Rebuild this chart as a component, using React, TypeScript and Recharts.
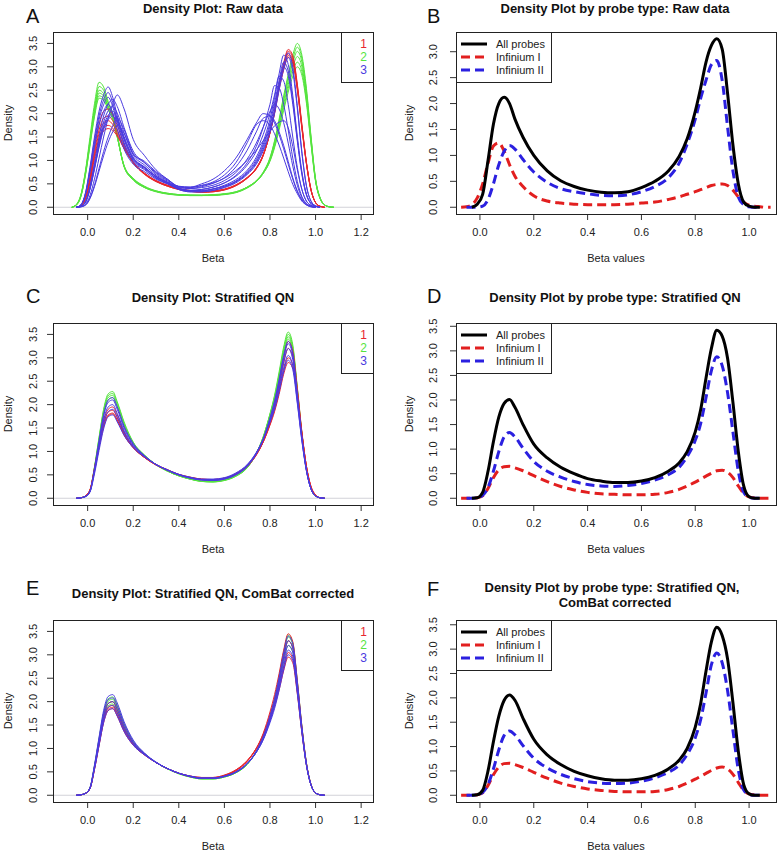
import React from 'react';
import { LineChart, Line, XAxis, YAxis, ReferenceLine } from 'recharts';

type V = number | null;

// shared beta grid (x positions of every density curve)
const BETA: number[] = [-0.07, -0.05, -0.03, -0.01, 0.01, 0.03, 0.05, 0.07, 0.09, 0.11, 0.13, 0.16, 0.2, 0.25, 0.3, 0.35, 0.4, 0.45, 0.5, 0.55, 0.6, 0.65, 0.7, 0.74, 0.77, 0.8, 0.82, 0.84, 0.86, 0.88, 0.9, 0.92, 0.94, 0.96, 0.98, 1.0, 1.02, 1.04, 1.06, 1.08];

// ---------- Panel A: raw data, per sample ----------
const rawGreen: V[][] = [
  [0, 0.05, 0.26, 0.77, 1.49, 2.21, 2.67, 2.57, 2.26, 2.0, 1.54, 0.87, 0.59, 0.42, 0.34, 0.29, 0.26, 0.25, 0.25, 0.26, 0.28, 0.32, 0.42, 0.56, 0.74, 1.05, 1.42, 1.88, 2.38, 2.84, 3.25, 3.5, 3.25, 2.54, 1.52, 0.61, 0.2, 0.05, 0.01, 0],
  [0, 0.05, 0.24, 0.73, 1.42, 2.12, 2.58, 2.5, 2.22, 1.97, 1.52, 0.86, 0.58, 0.42, 0.33, 0.28, 0.26, 0.25, 0.25, 0.26, 0.28, 0.32, 0.43, 0.57, 0.75, 1.06, 1.4, 1.84, 2.33, 2.78, 3.17, 3.42, 3.18, 2.48, 1.49, 0.6, 0.2, 0.05, 0.01, 0],
  [0, 0.06, 0.26, 0.74, 1.4, 2.07, 2.5, 2.43, 2.17, 1.94, 1.52, 0.88, 0.6, 0.43, 0.34, 0.29, 0.26, 0.25, 0.25, 0.25, 0.27, 0.31, 0.41, 0.55, 0.73, 1.03, 1.36, 1.79, 2.27, 2.71, 3.09, 3.33, 3.1, 2.42, 1.46, 0.58, 0.19, 0.05, 0.01, 0],
  [0, 0.05, 0.24, 0.71, 1.36, 2.02, 2.44, 2.38, 2.14, 1.92, 1.5, 0.87, 0.6, 0.43, 0.34, 0.29, 0.27, 0.26, 0.25, 0.26, 0.28, 0.32, 0.42, 0.55, 0.72, 1.0, 1.32, 1.74, 2.2, 2.62, 2.99, 3.22, 3.0, 2.35, 1.42, 0.57, 0.19, 0.05, 0.01, 0],
  [0, 0.05, 0.23, 0.69, 1.33, 1.97, 2.38, 2.33, 2.1, 1.9, 1.5, 0.88, 0.61, 0.44, 0.35, 0.3, 0.27, 0.26, 0.26, 0.26, 0.28, 0.33, 0.43, 0.56, 0.73, 1.0, 1.3, 1.7, 2.13, 2.54, 2.9, 3.1, 2.9, 2.28, 1.38, 0.56, 0.19, 0.05, 0.01, 0],
  [0, 0.04, 0.22, 0.67, 1.3, 1.93, 2.33, 2.29, 2.08, 1.88, 1.5, 0.89, 0.62, 0.45, 0.35, 0.3, 0.27, 0.26, 0.26, 0.27, 0.29, 0.33, 0.43, 0.56, 0.72, 0.98, 1.27, 1.65, 2.07, 2.46, 2.8, 3.0, 2.82, 2.22, 1.35, 0.55, 0.18, 0.05, 0.01, 0],
];
const rawRed: V[][] = [
  [null, 0, 0.04, 0.22, 0.65, 1.3, 1.78, 2.05, 2.1, 1.98, 1.75, 1.36, 0.98, 0.71, 0.55, 0.45, 0.38, 0.34, 0.32, 0.33, 0.37, 0.46, 0.62, 0.82, 1.1, 1.6, 2.06, 2.62, 3.08, 3.37, 3.24, 2.63, 1.77, 0.96, 0.38, 0.1, 0.02, 0, null, null],
  [null, 0, 0.04, 0.2, 0.6, 1.2, 1.65, 1.9, 1.95, 1.85, 1.65, 1.3, 0.95, 0.7, 0.55, 0.45, 0.38, 0.34, 0.32, 0.33, 0.37, 0.46, 0.62, 0.82, 1.1, 1.6, 2.05, 2.6, 3.05, 3.33, 3.2, 2.6, 1.75, 0.95, 0.38, 0.1, 0.02, 0, null, null],
  [null, 0, 0.04, 0.19, 0.57, 1.14, 1.57, 1.8, 1.85, 1.77, 1.6, 1.28, 0.95, 0.71, 0.56, 0.46, 0.39, 0.35, 0.33, 0.34, 0.38, 0.47, 0.63, 0.83, 1.11, 1.6, 2.03, 2.57, 3.0, 3.28, 3.15, 2.56, 1.72, 0.94, 0.37, 0.1, 0.02, 0, null, null],
  [null, 0, 0.03, 0.18, 0.54, 1.08, 1.48, 1.7, 1.75, 1.69, 1.55, 1.26, 0.95, 0.72, 0.57, 0.47, 0.39, 0.35, 0.33, 0.34, 0.38, 0.47, 0.63, 0.84, 1.12, 1.6, 2.02, 2.55, 2.97, 3.24, 3.12, 2.53, 1.7, 0.93, 0.37, 0.1, 0.02, 0, null, null],
  [null, 0, 0.03, 0.17, 0.52, 1.04, 1.43, 1.63, 1.68, 1.64, 1.52, 1.25, 0.96, 0.73, 0.57, 0.47, 0.4, 0.36, 0.34, 0.35, 0.39, 0.48, 0.64, 0.84, 1.12, 1.58, 2.0, 2.52, 2.93, 3.2, 3.08, 2.5, 1.68, 0.92, 0.36, 0.1, 0.02, 0, null, null],
];
const rawBlue: V[][] = [
  [null, 0, 0.05, 0.3, 0.85, 1.5, 2.05, 2.4, 2.57, 2.35, 1.95, 1.45, 1.05, 0.85, 0.65, 0.52, 0.4, 0.35, 0.35, 0.39, 0.47, 0.59, 0.79, 1.07, 1.4, 1.88, 2.34, 2.85, 3.25, 3.05, 2.39, 1.52, 0.76, 0.28, 0.08, 0.02, 0, null, null, null],
  [null, 0, 0.05, 0.29, 0.81, 1.43, 1.95, 2.29, 2.45, 2.24, 1.86, 1.38, 1.0, 0.82, 0.63, 0.51, 0.4, 0.35, 0.35, 0.39, 0.45, 0.56, 0.76, 1.02, 1.34, 1.79, 2.23, 2.71, 3.1, 2.91, 2.28, 1.45, 0.73, 0.27, 0.08, 0.02, 0, null, null, null],
  [null, 0, 0.02, 0.12, 0.45, 0.95, 1.5, 1.95, 2.2, 2.3, 2.15, 1.7, 1.2, 0.95, 0.72, 0.56, 0.41, 0.36, 0.36, 0.39, 0.45, 0.55, 0.73, 0.98, 1.29, 1.73, 2.16, 2.63, 3.0, 2.81, 2.2, 1.41, 0.7, 0.26, 0.08, 0.02, 0, null, null, null],
  [null, 0, 0.02, 0.11, 0.42, 0.89, 1.4, 1.82, 2.06, 2.15, 2.01, 1.59, 1.12, 0.9, 0.69, 0.54, 0.38, 0.33, 0.33, 0.36, 0.43, 0.54, 0.72, 0.95, 1.24, 1.65, 2.06, 2.58, 3.04, 3.3, 2.99, 2.17, 1.19, 0.46, 0.13, 0.03, 0, null, null, null],
  [null, 0, 0.01, 0.06, 0.25, 0.6, 1.05, 1.5, 1.9, 2.2, 2.4, 2.1, 1.45, 1.1, 0.8, 0.6, 0.44, 0.4, 0.42, 0.47, 0.57, 0.74, 1.03, 1.37, 1.71, 2.05, 2.2, 2.1, 1.81, 1.37, 0.88, 0.47, 0.2, 0.07, 0.02, 0, null, null, null, null],
  [null, 0, 0.02, 0.1, 0.39, 0.83, 1.3, 1.7, 1.91, 2.0, 1.87, 1.48, 1.04, 0.85, 0.66, 0.53, 0.42, 0.4, 0.44, 0.51, 0.63, 0.86, 1.22, 1.61, 1.9, 1.95, 1.85, 1.61, 1.32, 0.98, 0.63, 0.35, 0.16, 0.06, 0.02, 0, null, null, null, null],
  [null, 0, 0.01, 0.05, 0.2, 0.47, 0.83, 1.19, 1.5, 1.74, 1.9, 1.66, 1.15, 0.95, 0.74, 0.58, 0.44, 0.42, 0.47, 0.54, 0.69, 0.95, 1.38, 1.76, 1.85, 1.76, 1.57, 1.33, 1.05, 0.76, 0.49, 0.29, 0.13, 0.05, 0.01, 0, null, null, null, null],
  [null, 0, 0.02, 0.11, 0.4, 0.85, 1.34, 1.74, 1.96, 2.05, 1.91, 1.51, 1.07, 0.86, 0.66, 0.52, 0.4, 0.36, 0.38, 0.43, 0.52, 0.68, 0.95, 1.3, 1.7, 2.2, 2.6, 2.55, 2.2, 1.65, 1.05, 0.55, 0.23, 0.08, 0.02, 0, null, null, null, null],
  [null, 0, 0.04, 0.26, 0.73, 1.28, 1.75, 2.05, 2.2, 2.01, 1.67, 1.24, 0.92, 0.76, 0.6, 0.5, 0.4, 0.36, 0.38, 0.43, 0.52, 0.66, 0.9, 1.2, 1.55, 2.0, 2.4, 2.8, 2.7, 2.2, 1.5, 0.85, 0.38, 0.13, 0.04, 0, null, null, null, null],
  [null, 0, 0.01, 0.04, 0.18, 0.44, 0.77, 1.1, 1.39, 1.61, 1.75, 1.58, 1.14, 0.98, 0.76, 0.6, 0.44, 0.43, 0.5, 0.6, 0.78, 1.05, 1.45, 1.8, 2.0, 1.95, 1.8, 1.55, 1.25, 0.92, 0.6, 0.33, 0.15, 0.05, 0.01, 0, null, null, null, null],
  [null, 0, 0.02, 0.1, 0.38, 0.81, 1.28, 1.66, 1.87, 1.95, 1.83, 1.45, 1.02, 0.84, 0.66, 0.53, 0.45, 0.43, 0.46, 0.52, 0.62, 0.78, 1.0, 1.22, 1.42, 1.62, 1.74, 1.82, 1.85, 1.7, 1.3, 0.8, 0.38, 0.13, 0.04, 0, null, null, null, null],
  [null, 0, 0.05, 0.27, 0.78, 1.37, 1.87, 2.19, 2.35, 2.15, 1.78, 1.33, 0.97, 0.8, 0.62, 0.5, 0.38, 0.33, 0.33, 0.36, 0.42, 0.52, 0.7, 0.92, 1.2, 1.6, 2.0, 2.5, 2.95, 3.2, 2.9, 2.1, 1.15, 0.45, 0.13, 0.03, 0, null, null, null],
];

// ---------- Panel B: raw data by probe type ----------
const rawAll: V[] = [null, null, 0, 0.06, 0.25, 0.9, 1.6, 2.0, 2.12, 2.0, 1.7, 1.35, 1.0, 0.7, 0.51, 0.4, 0.33, 0.29, 0.28, 0.3, 0.38, 0.5, 0.7, 0.98, 1.32, 1.85, 2.3, 2.8, 3.12, 3.25, 3.05, 2.2, 1.2, 0.45, 0.1, 0.02, 0, 0, null, null];
const rawInf1: V[] = [0, 0.01, 0.05, 0.18, 0.45, 0.85, 1.18, 1.24, 1.08, 0.82, 0.6, 0.4, 0.22, 0.12, 0.08, 0.06, 0.05, 0.05, 0.05, 0.06, 0.08, 0.1, 0.15, 0.2, 0.25, 0.3, 0.34, 0.38, 0.42, 0.44, 0.45, 0.42, 0.33, 0.2, 0.1, 0.04, 0.02, 0.01, 0, 0];
const rawInf2: V[] = [null, 0, 0, 0, 0.02, 0.15, 0.45, 0.82, 1.08, 1.19, 1.12, 0.92, 0.68, 0.48, 0.36, 0.3, 0.26, 0.23, 0.22, 0.24, 0.3, 0.4, 0.57, 0.85, 1.22, 1.7, 2.1, 2.45, 2.75, 2.83, 2.45, 1.55, 0.7, 0.2, 0.05, 0.01, 0, 0, null, null];

// ---------- Panel C: stratified QN, per sample ----------
const qnGreen: V[][] = [
  [null, 0, 0.01, 0.04, 0.16, 0.67, 1.3, 1.9, 2.23, 2.28, 2.06, 1.63, 1.2, 0.92, 0.72, 0.58, 0.48, 0.41, 0.36, 0.35, 0.38, 0.47, 0.65, 0.95, 1.3, 1.8, 2.2, 2.7, 3.23, 3.55, 3.28, 2.37, 1.4, 0.64, 0.21, 0.05, 0.01, 0, null, null],
  [null, 0, 0.01, 0.04, 0.16, 0.66, 1.28, 1.87, 2.19, 2.24, 2.03, 1.6, 1.19, 0.92, 0.72, 0.58, 0.48, 0.41, 0.36, 0.35, 0.38, 0.47, 0.65, 0.96, 1.31, 1.8, 2.17, 2.65, 3.18, 3.5, 3.23, 2.33, 1.38, 0.64, 0.21, 0.05, 0.01, 0, null, null],
  [null, 0, 0.01, 0.04, 0.16, 0.65, 1.26, 1.83, 2.15, 2.2, 1.99, 1.57, 1.18, 0.91, 0.71, 0.58, 0.48, 0.41, 0.36, 0.35, 0.39, 0.48, 0.66, 0.96, 1.3, 1.78, 2.14, 2.61, 3.14, 3.45, 3.19, 2.3, 1.36, 0.63, 0.21, 0.05, 0.01, 0, null, null],
  [null, 0, 0.01, 0.04, 0.15, 0.63, 1.23, 1.79, 2.1, 2.15, 1.95, 1.54, 1.17, 0.91, 0.72, 0.58, 0.48, 0.41, 0.37, 0.36, 0.39, 0.48, 0.66, 0.96, 1.29, 1.75, 2.11, 2.58, 3.09, 3.4, 3.14, 2.27, 1.34, 0.62, 0.21, 0.05, 0.01, 0, null, null],
];
const qnRed: V[][] = [
  [null, 0, 0.01, 0.05, 0.18, 0.65, 1.18, 1.65, 1.9, 1.95, 1.78, 1.42, 1.1, 0.87, 0.71, 0.6, 0.5, 0.44, 0.4, 0.39, 0.42, 0.51, 0.68, 0.93, 1.22, 1.65, 2.0, 2.45, 2.98, 3.35, 3.15, 2.35, 1.42, 0.68, 0.24, 0.06, 0.01, 0, null, null],
  [null, 0, 0.01, 0.05, 0.17, 0.62, 1.13, 1.59, 1.84, 1.88, 1.72, 1.39, 1.09, 0.87, 0.71, 0.6, 0.5, 0.44, 0.4, 0.39, 0.42, 0.51, 0.68, 0.92, 1.2, 1.6, 1.93, 2.37, 2.88, 3.2, 3.02, 2.28, 1.4, 0.68, 0.24, 0.06, 0.01, 0, null, null],
  [null, 0, 0.01, 0.05, 0.17, 0.6, 1.1, 1.54, 1.78, 1.82, 1.67, 1.36, 1.08, 0.87, 0.72, 0.61, 0.51, 0.45, 0.41, 0.4, 0.43, 0.52, 0.69, 0.93, 1.2, 1.58, 1.88, 2.28, 2.73, 3.0, 2.85, 2.2, 1.38, 0.68, 0.25, 0.07, 0.01, 0, null, null],
  [null, 0, 0.01, 0.05, 0.17, 0.59, 1.08, 1.52, 1.76, 1.8, 1.66, 1.35, 1.08, 0.87, 0.72, 0.61, 0.51, 0.45, 0.41, 0.4, 0.43, 0.52, 0.7, 0.94, 1.2, 1.56, 1.85, 2.22, 2.65, 2.9, 2.78, 2.16, 1.37, 0.68, 0.25, 0.07, 0.01, 0, null, null],
];
const qnBlue: V[][] = [
  [null, 0, 0.01, 0.04, 0.15, 0.63, 1.23, 1.79, 2.1, 2.15, 1.95, 1.54, 1.17, 0.91, 0.72, 0.6, 0.5, 0.43, 0.39, 0.38, 0.41, 0.5, 0.68, 0.96, 1.27, 1.72, 2.08, 2.54, 3.05, 3.35, 3.1, 2.23, 1.32, 0.61, 0.2, 0.05, 0.01, 0, null, null],
  [null, 0, 0.01, 0.04, 0.15, 0.62, 1.2, 1.75, 2.05, 2.1, 1.9, 1.5, 1.15, 0.9, 0.72, 0.6, 0.5, 0.43, 0.39, 0.38, 0.41, 0.5, 0.68, 0.95, 1.25, 1.7, 2.05, 2.5, 3.0, 3.3, 3.05, 2.2, 1.3, 0.6, 0.2, 0.05, 0.01, 0, null, null],
  [null, 0, 0.01, 0.04, 0.14, 0.59, 1.14, 1.67, 1.95, 2.0, 1.81, 1.45, 1.13, 0.9, 0.72, 0.6, 0.5, 0.44, 0.4, 0.39, 0.42, 0.51, 0.69, 0.95, 1.24, 1.66, 1.99, 2.43, 2.91, 3.2, 2.96, 2.14, 1.27, 0.59, 0.2, 0.05, 0.01, 0, null, null],
  [null, 0, 0.01, 0.04, 0.14, 0.56, 1.09, 1.58, 1.85, 1.9, 1.73, 1.4, 1.11, 0.89, 0.72, 0.6, 0.51, 0.44, 0.4, 0.4, 0.43, 0.53, 0.71, 0.97, 1.25, 1.64, 1.93, 2.33, 2.78, 3.05, 2.83, 2.06, 1.24, 0.59, 0.2, 0.05, 0.01, 0, null, null],
  [null, 0, 0.01, 0.03, 0.13, 0.52, 1.02, 1.48, 1.74, 1.78, 1.63, 1.34, 1.08, 0.88, 0.72, 0.61, 0.51, 0.45, 0.41, 0.41, 0.44, 0.54, 0.72, 0.98, 1.26, 1.62, 1.9, 2.27, 2.7, 2.95, 2.75, 2.02, 1.22, 0.58, 0.2, 0.05, 0.01, 0, null, null],
];

// ---------- Panel D: stratified QN by probe type ----------
const qnAll: V[] = [null, null, 0, 0.01, 0.12, 0.55, 1.15, 1.65, 1.93, 2.01, 1.85, 1.5, 1.1, 0.82, 0.63, 0.5, 0.4, 0.35, 0.32, 0.32, 0.35, 0.42, 0.55, 0.72, 0.95, 1.35, 1.8, 2.45, 3.05, 3.42, 3.3, 2.85, 1.95, 0.95, 0.25, 0.03, 0, 0, null, null];
const qnInf1: V[] = [0, 0, 0, 0.01, 0.05, 0.2, 0.42, 0.58, 0.64, 0.65, 0.62, 0.56, 0.46, 0.34, 0.24, 0.17, 0.12, 0.09, 0.08, 0.07, 0.07, 0.08, 0.12, 0.18, 0.25, 0.33, 0.39, 0.45, 0.51, 0.56, 0.57, 0.53, 0.42, 0.25, 0.1, 0.03, 0.01, 0, 0, 0];
const qnInf2: V[] = [null, 0, 0, 0.01, 0.06, 0.22, 0.55, 0.95, 1.25, 1.34, 1.25, 1.02, 0.75, 0.55, 0.43, 0.34, 0.28, 0.25, 0.24, 0.26, 0.3, 0.37, 0.48, 0.63, 0.85, 1.18, 1.52, 2.05, 2.6, 2.88, 2.7, 2.15, 1.35, 0.55, 0.12, 0.02, 0, 0, null, null];

// ---------- Panel E: stratified QN + ComBat, per sample ----------
const cbGreen: V[][] = [
  [null, 0, 0.01, 0.04, 0.16, 0.63, 1.21, 1.76, 2.06, 2.1, 1.92, 1.53, 1.15, 0.89, 0.7, 0.57, 0.46, 0.39, 0.35, 0.35, 0.39, 0.48, 0.66, 0.94, 1.25, 1.7, 2.07, 2.54, 3.06, 3.42, 3.26, 2.44, 1.47, 0.68, 0.23, 0.05, 0.01, 0, null, null],
  [null, 0, 0.01, 0.04, 0.15, 0.62, 1.18, 1.72, 2.01, 2.05, 1.88, 1.5, 1.14, 0.89, 0.7, 0.57, 0.46, 0.39, 0.35, 0.35, 0.39, 0.48, 0.66, 0.94, 1.24, 1.68, 2.05, 2.51, 3.02, 3.38, 3.22, 2.41, 1.45, 0.68, 0.23, 0.05, 0.01, 0, null, null],
  [null, 0, 0.01, 0.04, 0.15, 0.6, 1.15, 1.68, 1.96, 2.0, 1.83, 1.46, 1.12, 0.88, 0.7, 0.56, 0.46, 0.39, 0.35, 0.35, 0.39, 0.48, 0.66, 0.93, 1.22, 1.65, 2.0, 2.45, 2.95, 3.3, 3.15, 2.35, 1.42, 0.66, 0.22, 0.05, 0.01, 0, null, null],
  [null, 0, 0.01, 0.04, 0.15, 0.59, 1.12, 1.64, 1.91, 1.95, 1.79, 1.43, 1.11, 0.88, 0.7, 0.57, 0.47, 0.4, 0.36, 0.36, 0.4, 0.49, 0.67, 0.92, 1.2, 1.61, 1.95, 2.38, 2.86, 3.2, 3.06, 2.29, 1.39, 0.65, 0.22, 0.05, 0.01, 0, null, null],
];
const cbRed: V[][] = [
  [null, 0, 0.01, 0.04, 0.15, 0.6, 1.15, 1.68, 1.96, 2.0, 1.83, 1.46, 1.12, 0.88, 0.7, 0.57, 0.47, 0.4, 0.37, 0.37, 0.42, 0.52, 0.72, 1.0, 1.32, 1.78, 2.15, 2.6, 3.1, 3.45, 3.28, 2.45, 1.48, 0.69, 0.23, 0.05, 0.01, 0, null, null],
  [null, 0, 0.01, 0.04, 0.14, 0.58, 1.1, 1.61, 1.88, 1.92, 1.76, 1.41, 1.1, 0.87, 0.7, 0.57, 0.47, 0.4, 0.37, 0.37, 0.42, 0.53, 0.73, 1.0, 1.3, 1.72, 2.06, 2.48, 2.96, 3.3, 3.15, 2.36, 1.43, 0.67, 0.23, 0.05, 0.01, 0, null, null],
  [null, 0, 0.01, 0.04, 0.14, 0.56, 1.08, 1.58, 1.84, 1.88, 1.72, 1.38, 1.08, 0.86, 0.7, 0.57, 0.47, 0.41, 0.38, 0.38, 0.43, 0.54, 0.74, 1.0, 1.28, 1.65, 1.95, 2.32, 2.74, 3.05, 2.92, 2.22, 1.36, 0.65, 0.22, 0.05, 0.01, 0, null, null],
  [null, 0, 0.01, 0.04, 0.14, 0.55, 1.06, 1.55, 1.81, 1.85, 1.69, 1.36, 1.07, 0.86, 0.7, 0.57, 0.47, 0.41, 0.38, 0.38, 0.43, 0.54, 0.74, 1.0, 1.27, 1.62, 1.9, 2.25, 2.66, 2.95, 2.83, 2.16, 1.33, 0.64, 0.22, 0.05, 0.01, 0, null, null],
];
const cbBlue: V[][] = [
  [null, 0, 0.01, 0.04, 0.16, 0.65, 1.24, 1.81, 2.11, 2.15, 1.97, 1.57, 1.18, 0.9, 0.71, 0.57, 0.47, 0.4, 0.36, 0.36, 0.4, 0.49, 0.67, 0.95, 1.26, 1.7, 2.06, 2.52, 3.04, 3.4, 3.24, 2.42, 1.46, 0.68, 0.23, 0.05, 0.01, 0, null, null],
  [null, 0, 0.01, 0.04, 0.16, 0.62, 1.2, 1.75, 2.04, 2.08, 1.9, 1.52, 1.15, 0.89, 0.7, 0.57, 0.47, 0.4, 0.36, 0.36, 0.4, 0.49, 0.67, 0.93, 1.22, 1.65, 2.0, 2.45, 2.95, 3.3, 3.15, 2.35, 1.42, 0.66, 0.22, 0.05, 0.01, 0, null, null],
  [null, 0, 0.01, 0.04, 0.15, 0.6, 1.15, 1.68, 1.96, 2.0, 1.83, 1.46, 1.12, 0.88, 0.7, 0.57, 0.47, 0.4, 0.36, 0.36, 0.4, 0.49, 0.67, 0.92, 1.2, 1.61, 1.95, 2.38, 2.86, 3.2, 3.06, 2.29, 1.39, 0.65, 0.22, 0.05, 0.01, 0, null, null],
  [null, 0, 0.01, 0.04, 0.14, 0.58, 1.1, 1.61, 1.88, 1.92, 1.76, 1.41, 1.1, 0.87, 0.7, 0.57, 0.47, 0.41, 0.37, 0.37, 0.41, 0.5, 0.68, 0.92, 1.19, 1.58, 1.9, 2.31, 2.77, 3.1, 2.97, 2.23, 1.36, 0.64, 0.22, 0.05, 0.01, 0, null, null],
  [null, 0, 0.01, 0.04, 0.14, 0.55, 1.06, 1.55, 1.81, 1.85, 1.69, 1.36, 1.07, 0.86, 0.7, 0.57, 0.47, 0.41, 0.37, 0.37, 0.41, 0.5, 0.68, 0.92, 1.18, 1.55, 1.85, 2.24, 2.68, 3.0, 2.88, 2.18, 1.34, 0.64, 0.22, 0.05, 0.01, 0, null, null],
];

// ---------- Panel F: stratified QN + ComBat by probe type ----------
const cbAll: V[] = [null, null, 0, 0.01, 0.1, 0.5, 1.1, 1.62, 1.95, 2.06, 1.95, 1.58, 1.15, 0.83, 0.63, 0.49, 0.4, 0.34, 0.31, 0.31, 0.34, 0.41, 0.54, 0.72, 0.96, 1.4, 1.88, 2.55, 3.15, 3.45, 3.28, 2.8, 1.9, 0.9, 0.22, 0.03, 0, 0, null, null];
const cbInf1: V[] = [0, 0, 0, 0.01, 0.05, 0.2, 0.42, 0.58, 0.65, 0.66, 0.63, 0.57, 0.47, 0.35, 0.25, 0.18, 0.13, 0.1, 0.08, 0.07, 0.07, 0.08, 0.12, 0.18, 0.25, 0.33, 0.39, 0.45, 0.51, 0.56, 0.58, 0.54, 0.43, 0.26, 0.1, 0.03, 0.01, 0, 0, 0];
const cbInf2: V[] = [null, 0, 0, 0.01, 0.06, 0.22, 0.54, 0.93, 1.23, 1.32, 1.24, 1.02, 0.76, 0.56, 0.43, 0.34, 0.28, 0.25, 0.24, 0.25, 0.29, 0.36, 0.47, 0.62, 0.84, 1.18, 1.55, 2.1, 2.68, 2.92, 2.72, 2.15, 1.33, 0.52, 0.11, 0.02, 0, 0, null, null];

// tick labels
const SAMPLE_X_TICKS = [0, 0.2, 0.4, 0.6, 0.8, 1.0, 1.2];
const PROBE_X_TICKS = [0, 0.2, 0.4, 0.6, 0.8, 1.0];
const Y_TICKS_35 = [0, 0.5, 1.0, 1.5, 2.0, 2.5, 3.0, 3.5];
const Y_TICKS_30 = [0, 0.5, 1.0, 1.5, 2.0, 2.5, 3.0];
const GROUP_LABELS = ['1', '2', '3'];
const PROBE_LABELS = ['All probes', 'Infinium I', 'Infinium II'];

const FONT = '"Liberation Sans", Arial, Helvetica, sans-serif';
const C_GREEN = '#55e43e';
const C_RED = '#e8262e';
const C_BLUE = '#4a3ae0';
const P_BLACK = '#000000';
const P_RED = '#e21f1f';
const P_BLUE = '#2b20e0';

type LineSpec = { key: string; data: V[]; color: string; width: number; dash?: string };

function groupLines(green: V[][], red: V[][], blue: V[][]): LineSpec[] {
  const out: LineSpec[] = [];
  green.forEach((d, i) => out.push({ key: 'g' + i, data: d, color: C_GREEN, width: 1 }));
  red.forEach((d, i) => out.push({ key: 'r' + i, data: d, color: C_RED, width: 1 }));
  blue.forEach((d, i) => out.push({ key: 'b' + i, data: d, color: C_BLUE, width: 1 }));
  return out;
}
function probeLines(all: V[], i1: V[], i2: V[]): LineSpec[] {
  return [
    { key: 'i1', data: i1, color: P_RED, width: 3, dash: '9 5' },
    { key: 'i2', data: i2, color: P_BLUE, width: 3, dash: '9 5' },
    { key: 'all', data: all, color: P_BLACK, width: 3 },
  ];
}

const XTick = (props: any) => {
  const { x, y, payload } = props;
  return (
    <text x={x} y={y} dy="0.71em" textAnchor="middle" fontSize={11} fill="#222" fontFamily={FONT}>
      {Number(payload.value).toFixed(1)}
    </text>
  );
};
const YTick = (props: any) => {
  const { x, y, payload } = props;
  return (
    <text x={x} y={y} transform={`rotate(-90 ${x} ${y})`} textAnchor="middle" fontSize={11} fill="#222" fontFamily={FONT}>
      {Number(payload.value).toFixed(1)}
    </text>
  );
};

interface PanelProps {
  left: number; top: number; width: number; height: number;
  plotLeft: number; plotRight: number; plotTop: number; plotBottom: number;
  xDomain: [number, number]; xTicks: number[];
  yDomain: [number, number]; yTicks: number[];
  yTickMargin: number;
  lines: LineSpec[]; zeroLine?: boolean;
}

function Panel(p: PanelProps) {
  const XH = 30;
  const rows = BETA.map((x, i) => {
    const r: Record<string, V> = { x };
    p.lines.forEach((l) => { r[l.key] = l.data[i]; });
    return r;
  });
  return (
    <div style={{ position: 'absolute', left: p.left, top: p.top }}>
      <LineChart
        width={p.width}
        height={p.height}
        data={rows}
        margin={{ top: p.plotTop, right: p.width - p.plotRight, bottom: p.height - p.plotBottom - XH, left: 0 }}
      >
        <XAxis dataKey="x" type="number" domain={p.xDomain} ticks={p.xTicks} allowDataOverflow interval={0}
          height={XH} axisLine={false} tickLine={{ stroke: '#333' }} tickSize={6} tickMargin={8}
          tick={(t: any) => <XTick {...t} />} />
        <YAxis type="number" domain={p.yDomain} ticks={p.yTicks} allowDataOverflow interval={0}
          width={p.plotLeft} axisLine={false} tickLine={{ stroke: '#333' }} tickSize={6} tickMargin={p.yTickMargin}
          tick={(t: any) => <YTick {...t} />} />
        {p.zeroLine ? <ReferenceLine y={0} stroke="#d2d2d8" strokeWidth={1.2} /> : null}
        {p.lines.map((l) => (
          <Line key={l.key} dataKey={l.key} type="monotone" stroke={l.color} strokeWidth={l.width}
            strokeDasharray={l.dash} dot={false} activeDot={false} isAnimationActive={false}
            connectNulls={false} />
        ))}
      </LineChart>
    </div>
  );
}

const SAMPLE_X_DOMAIN: [number, number] = [-0.152, 1.252];
const PROBE_X_DOMAIN: [number, number] = [-0.089, 1.1];

export default function App() {
  const boxes = [
    { x: 53, y: 32 }, { x: 456, y: 32 },
    { x: 53, y: 323 }, { x: 456, y: 323 },
    { x: 53, y: 620 }, { x: 456, y: 620 },
  ];
  const sampleLegends = [32, 323, 620];
  const probeLegends = [32, 323, 620];
  const rowOff = [12, 25, 38];
  const groupColors = [C_RED, C_GREEN, C_BLUE];
  const probeStyles = [
    { c: P_BLACK, d: undefined as string | undefined },
    { c: P_RED, d: '9 5' },
    { c: P_BLUE, d: '9 5' },
  ];
  return (
    <div style={{ position: 'absolute', left: 0, top: 0, width: 778, height: 852, background: '#fff', fontFamily: FONT }}>
      <Panel left={0} top={0} width={390} height={280} plotLeft={53} plotRight={373} plotTop={32} plotBottom={214}
        xDomain={SAMPLE_X_DOMAIN} xTicks={SAMPLE_X_TICKS} yDomain={[-0.144, 3.744]} yTicks={Y_TICKS_35} yTickMargin={10}
        lines={groupLines(rawGreen, rawRed, rawBlue)} zeroLine />
      <Panel left={390} top={0} width={388} height={280} plotLeft={66} plotRight={386} plotTop={32} plotBottom={214}
        xDomain={PROBE_X_DOMAIN} xTicks={PROBE_X_TICKS} yDomain={[-0.13, 3.38]} yTicks={Y_TICKS_30} yTickMargin={13}
        lines={probeLines(rawAll, rawInf1, rawInf2)} />
      <Panel left={0} top={280} width={390} height={280} plotLeft={53} plotRight={373} plotTop={43} plotBottom={225}
        xDomain={SAMPLE_X_DOMAIN} xTicks={SAMPLE_X_TICKS} yDomain={[-0.144, 3.744]} yTicks={Y_TICKS_35} yTickMargin={10}
        lines={groupLines(qnGreen, qnRed, qnBlue)} zeroLine />
      <Panel left={390} top={280} width={388} height={280} plotLeft={66} plotRight={386} plotTop={43} plotBottom={225}
        xDomain={PROBE_X_DOMAIN} xTicks={PROBE_X_TICKS} yDomain={[-0.137, 3.567]} yTicks={Y_TICKS_35} yTickMargin={13}
        lines={probeLines(qnAll, qnInf1, qnInf2)} />
      <Panel left={0} top={560} width={390} height={292} plotLeft={53} plotRight={373} plotTop={60} plotBottom={242}
        xDomain={SAMPLE_X_DOMAIN} xTicks={SAMPLE_X_TICKS} yDomain={[-0.144, 3.744]} yTicks={Y_TICKS_35} yTickMargin={10}
        lines={groupLines(cbGreen, cbRed, cbBlue)} zeroLine />
      <Panel left={390} top={560} width={388} height={292} plotLeft={66} plotRight={386} plotTop={60} plotBottom={242}
        xDomain={PROBE_X_DOMAIN} xTicks={PROBE_X_TICKS} yDomain={[-0.138, 3.598]} yTicks={Y_TICKS_35} yTickMargin={13}
        lines={probeLines(cbAll, cbInf1, cbInf2)} />

      <svg width={778} height={852} style={{ position: 'absolute', left: 0, top: 0, pointerEvents: 'none' }} fontFamily={FONT}>
        {boxes.map((b, i) => (
          <rect key={'box' + i} x={b.x + 0.5} y={b.y + 0.5} width={320} height={182} fill="none" stroke="#222" strokeWidth={1} />
        ))}
        {/* sample-group legends */}
        {sampleLegends.map((t, i) => (
          <g key={'sl' + i}>
            <rect x={341.5} y={t + 0.5} width={32} height={50} fill="#fff" stroke="#222" strokeWidth={1} />
            {GROUP_LABELS.map((lab, j) => (
              <text key={lab} x={367} y={t + rowOff[j]} textAnchor="end" dominantBaseline="central" fontSize={12} fill={groupColors[j]}>{lab}</text>
            ))}
          </g>
        ))}
        {/* probe-type legends */}
        {probeLegends.map((t, i) => (
          <g key={'pl' + i}>
            <rect x={456.5} y={t + 0.5} width={95} height={50} fill="#fff" stroke="#222" strokeWidth={1} />
            {PROBE_LABELS.map((lab, j) => (
              <g key={lab}>
                <line x1={461} x2={487} y1={t + rowOff[j]} y2={t + rowOff[j]} stroke={probeStyles[j].c} strokeWidth={3} strokeDasharray={probeStyles[j].d} />
                <text x={496} y={t + rowOff[j]} dominantBaseline="central" fontSize={11} fill="#222">{lab}</text>
              </g>
            ))}
          </g>
        ))}
        {/* titles */}
        <g fontSize={13} fontWeight="bold" fill="#111" textAnchor="middle">
          <text x={213} y={8} dominantBaseline="central">Density Plot: Raw data</text>
          <text x={615} y={8} dominantBaseline="central">Density Plot by probe type: Raw data</text>
          <text x={213} y={297} dominantBaseline="central">Density Plot: Stratified QN</text>
          <text x={615} y={297} dominantBaseline="central">Density Plot by probe type: Stratified QN</text>
          <text x={213} y={593} dominantBaseline="central">Density Plot: Stratified QN, ComBat corrected</text>
          <text x={612} y={587} dominantBaseline="central">Density Plot by probe type: Stratified QN,</text>
          <text x={615} y={602} dominantBaseline="central">ComBat corrected</text>
        </g>
        {/* panel letters */}
        <g fontSize={20} fill="#111">
          <text x={26} y={16} dominantBaseline="central">A</text>
          <text x={427} y={16} dominantBaseline="central">B</text>
          <text x={26} y={296} dominantBaseline="central">C</text>
          <text x={427} y={296} dominantBaseline="central">D</text>
          <text x={26} y={588} dominantBaseline="central">E</text>
          <text x={427} y={589} dominantBaseline="central">F</text>
        </g>
        {/* axis titles */}
        <g fontSize={11} fill="#222" textAnchor="middle">
          {[[8, 123], [409, 123], [8, 414], [409, 414], [8, 711], [409, 711]].map(([x, y], i) => (
            <text key={'yl' + i} x={x} y={y} dominantBaseline="central" transform={`rotate(-90 ${x} ${y})`}>Density</text>
          ))}
          <text x={213} y={258} dominantBaseline="central">Beta</text>
          <text x={213} y={549} dominantBaseline="central">Beta</text>
          <text x={213} y={846} dominantBaseline="central">Beta</text>
          <text x={616} y={258} dominantBaseline="central">Beta values</text>
          <text x={616} y={549} dominantBaseline="central">Beta values</text>
          <text x={616} y={846} dominantBaseline="central">Beta values</text>
        </g>
      </svg>
    </div>
  );
}
